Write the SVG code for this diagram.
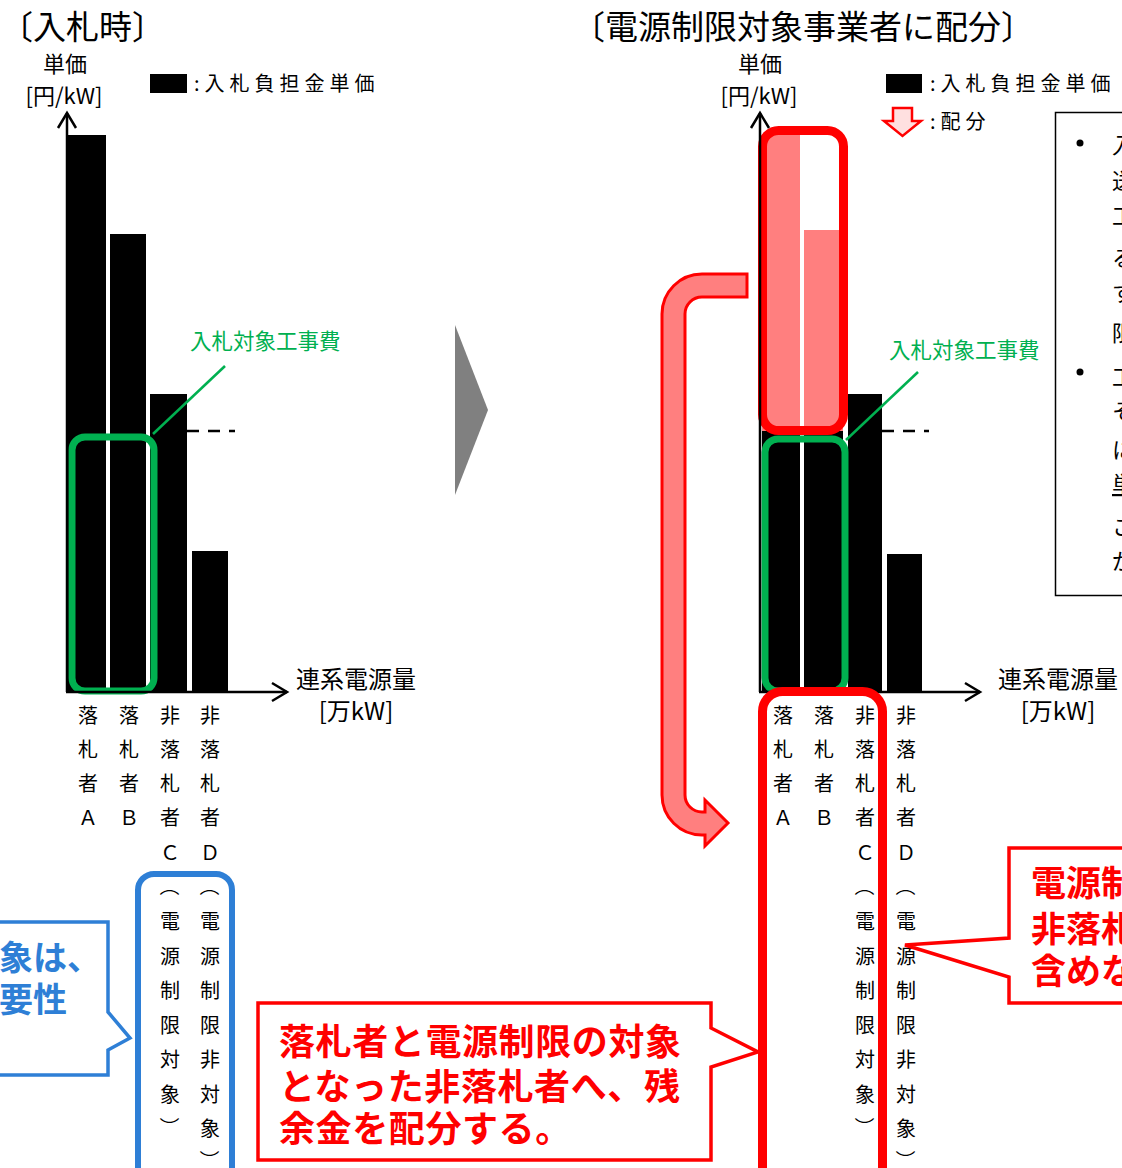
<svg xmlns="http://www.w3.org/2000/svg" width="1122" height="1168" viewBox="0 0 1122 1168">
<style>
text{font-family:"Noto Sans CJK JP","Noto Sans",sans-serif;fill:#000}
.t{font-size:33px}
.ax{font-size:22px;text-anchor:middle}
.ax2{font-size:24px;text-anchor:middle}
.lg{font-size:20px;letter-spacing:5px}
.col{font-size:20px;text-anchor:middle;dominant-baseline:central}
.gr{font-size:21.5px;fill:#00B050}
.bar{fill:#000}
.pink{fill:#FF7F7F}
.axis{stroke:#000;stroke-width:2.5;fill:none}
.grn{fill:none;stroke:#00B050;stroke-width:7}
.red{fill:none;stroke:#FF0000;stroke-width:9}
.blu{fill:none;stroke:#2E7FD6;stroke-width:6}
.call{fill:#fff;stroke:#FF0000;stroke-width:3.5}
.callb{fill:#fff;stroke:#2E7FD6;stroke-width:3.5}
.rt{font-size:35px;font-weight:bold;fill:#FF0000}
.rtb{font-size:36px;font-weight:bold;fill:#FF0000;letter-spacing:0.6px}
.bt{font-size:34px;font-weight:bold;fill:#2E7FD6}
.bx{font-size:22px}
</style>

<!-- titles -->
<g id="title-left"><text class="t" x="0" y="39">〔入札時〕</text></g>
<g id="title-right"><text class="t" x="572" y="39">〔電源制限対象事業者に配分〕</text></g>

<!-- LEFT CHART -->
<g id="left-axis-labels">
  <text class="ax" x="65" y="72">単価</text>
  <text class="ax" x="64" y="104">[円/kW]</text>
  <text class="ax2" x="356" y="688">連系電源量</text>
  <text class="ax2" x="356" y="720">[万kW]</text>
</g>
<g id="left-legend">
  <rect x="150" y="74" width="37" height="19" fill="#000"/>
  <text class="lg" x="194" y="91">:入札負担金単価</text>
</g>
<g id="left-bars">
  <rect class="bar" x="68" y="135" width="38" height="557"/>
  <rect class="bar" x="110" y="234" width="36" height="458"/>
  <rect class="bar" x="150" y="394" width="37" height="298"/>
  <rect class="bar" x="192" y="551" width="36" height="141"/>
</g>
<g id="left-dash"><line x1="187" y1="431" x2="235" y2="431" stroke="#000" stroke-width="2.5" stroke-dasharray="12,9"/></g>
<g id="left-green-box"><rect class="grn" x="72" y="437" width="82" height="254" rx="13"/></g>
<g id="left-green-label">
  <text class="gr" x="190" y="349">入札対象工事費</text>
</g>

<!-- gray arrow -->
<g id="transition-arrow"><polygon points="455,325 488,410 455,495" fill="#808080"/></g>

<!-- RIGHT CHART -->
<g id="right-axis-labels">
  <text class="ax" x="760" y="72">単価</text>
  <text class="ax" x="759" y="104">[円/kW]</text>
  <text class="ax2" x="1058" y="688">連系電源量</text>
  <text class="ax2" x="1058" y="720">[万kW]</text>
</g>
<g id="right-legend">
  <rect x="886" y="74" width="36" height="19" fill="#000"/>
  <text class="lg" x="930" y="91">:入札負担金単価</text>
  <path d="M893,108 H912 V121 H921 L902.5,136 L884,121 H893 Z" fill="#FFE0E0" stroke="#FF0000" stroke-width="2.5" stroke-linejoin="miter"/>
  <text class="lg" x="930" y="129">:配分</text>
</g>
<g id="right-bars">
  <rect class="pink" x="762" y="135" width="38" height="296"/>
  <rect class="pink" x="804" y="230" width="39" height="201"/>
  <rect class="bar" x="762" y="431" width="38" height="261"/>
  <rect class="bar" x="804" y="431" width="39" height="261"/>
  <rect class="bar" x="848" y="394" width="34" height="298"/>
  <rect class="bar" x="887" y="554" width="35" height="138"/>
</g>
<g id="right-dash"><line x1="882" y1="431" x2="929" y2="431" stroke="#000" stroke-width="2.5" stroke-dasharray="12,9"/></g>
<g id="right-red-box"><rect class="red" x="762.5" y="130.5" width="81" height="300" rx="16"/></g>
<g id="right-green-box"><rect class="grn" x="765" y="439" width="80" height="252" rx="13"/></g>
<g id="right-green-label">
  <text class="gr" x="889" y="358">入札対象工事費</text>
</g>

<!-- axes and leaders -->
<g id="connectors">
  <line class="axis" x1="67" y1="113" x2="67" y2="692"/>
  <polyline class="axis" points="58,128 67,113 76,128"/>
  <line class="axis" x1="66" y1="692" x2="287" y2="692"/>
  <polyline class="axis" points="272,683 287,692 272,701"/>
  <line class="axis" x1="760" y1="113" x2="760" y2="692"/>
  <polyline class="axis" points="751,128 760,113 769,128"/>
  <line class="axis" x1="759" y1="692" x2="980" y2="692"/>
  <polyline class="axis" points="965,683 980,692 965,701"/>
  <line x1="225" y1="366" x2="153" y2="434" stroke="#00B050" stroke-width="2.5"/>
  <line x1="918" y1="372" x2="846" y2="440" stroke="#00B050" stroke-width="2.5"/>
  <path id="bent-arrow" d="M747,274 L702,274 A40,40 0 0 0 662,314 L662,795 A40,40 0 0 0 702,835 L705,835 L705,846 L728,823 L705,800 L705,812 L702,812 A17,17 0 0 1 685,795 L685,314 A17,17 0 0 1 702,297 L747,297 Z" fill="#FF7F7F" stroke="#FF0000" stroke-width="3"/>
</g>

<!-- LEFT column labels -->
<g id="left-labels">
  <text class="col" x="88" y="714">落</text><text class="col" x="88" y="748">札</text><text class="col" x="88" y="782">者</text><text class="col" x="88" y="816">Ａ</text>
  <text class="col" x="129" y="714">落</text><text class="col" x="129" y="748">札</text><text class="col" x="129" y="782">者</text><text class="col" x="129" y="816">Ｂ</text>
  <text class="col" x="170" y="714">非</text><text class="col" x="170" y="748">落</text><text class="col" x="170" y="782">札</text><text class="col" x="170" y="816">者</text><text class="col" x="170" y="851">Ｃ</text>
  <text class="col" transform="translate(170,886) rotate(90)" x="0" y="0">（</text><text class="col" x="170" y="920">電</text><text class="col" x="170" y="955">源</text><text class="col" x="170" y="989">制</text><text class="col" x="170" y="1024">限</text><text class="col" x="170" y="1058">対</text><text class="col" x="170" y="1093">象</text><text class="col" transform="translate(170,1127) rotate(90)" x="0" y="0">）</text>
  <text class="col" x="210" y="714">非</text><text class="col" x="210" y="748">落</text><text class="col" x="210" y="782">札</text><text class="col" x="210" y="816">者</text><text class="col" x="210" y="851">Ｄ</text>
  <text class="col" transform="translate(210,886) rotate(90)" x="0" y="0">（</text><text class="col" x="210" y="920">電</text><text class="col" x="210" y="955">源</text><text class="col" x="210" y="989">制</text><text class="col" x="210" y="1024">限</text><text class="col" x="210" y="1058">非</text><text class="col" x="210" y="1093">対</text><text class="col" x="210" y="1127">象</text><text class="col" transform="translate(210,1160) rotate(90)" x="0" y="0">）</text>
</g>
<g id="left-blue-box"><rect class="blu" x="138" y="874" width="94" height="310" rx="16"/></g>

<!-- RIGHT column labels -->
<g id="right-labels">
  <text class="col" x="783" y="714">落</text><text class="col" x="783" y="748">札</text><text class="col" x="783" y="782">者</text><text class="col" x="783" y="816">Ａ</text>
  <text class="col" x="824" y="714">落</text><text class="col" x="824" y="748">札</text><text class="col" x="824" y="782">者</text><text class="col" x="824" y="816">Ｂ</text>
  <text class="col" x="865" y="714">非</text><text class="col" x="865" y="748">落</text><text class="col" x="865" y="782">札</text><text class="col" x="865" y="816">者</text><text class="col" x="865" y="851">Ｃ</text>
  <text class="col" transform="translate(865,886) rotate(90)" x="0" y="0">（</text><text class="col" x="865" y="920">電</text><text class="col" x="865" y="955">源</text><text class="col" x="865" y="989">制</text><text class="col" x="865" y="1024">限</text><text class="col" x="865" y="1058">対</text><text class="col" x="865" y="1093">象</text><text class="col" transform="translate(865,1127) rotate(90)" x="0" y="0">）</text>
  <text class="col" x="906" y="714">非</text><text class="col" x="906" y="748">落</text><text class="col" x="906" y="782">札</text><text class="col" x="906" y="816">者</text><text class="col" x="906" y="851">Ｄ</text>
  <text class="col" transform="translate(906,886) rotate(90)" x="0" y="0">（</text><text class="col" x="906" y="920">電</text><text class="col" x="906" y="955">源</text><text class="col" x="906" y="989">制</text><text class="col" x="906" y="1024">限</text><text class="col" x="906" y="1058">非</text><text class="col" x="906" y="1093">対</text><text class="col" x="906" y="1127">象</text><text class="col" transform="translate(906,1160) rotate(90)" x="0" y="0">）</text>
</g>
<g id="right-red-label-box"><rect class="red" x="762.5" y="691.5" width="120" height="500" rx="20"/></g>

<!-- right note box -->
<g id="note-box">
  <rect x="1055.5" y="112.5" width="80" height="483" fill="none" stroke="#000" stroke-width="1.5"/>
  <circle cx="1080" cy="143" r="3.5" fill="#000"/>
  <circle cx="1080" cy="372" r="3.5" fill="#000"/>
  <text class="bx" x="1112" y="153">入</text>
  <text class="bx" x="1112" y="189">送</text>
  <text class="bx" x="1112" y="224">工</text>
  <text class="bx" x="1112" y="266">る</text>
  <text class="bx" x="1112" y="301">す</text>
  <text class="bx" x="1112" y="341">限</text>
  <text class="bx" x="1112" y="385">工</text>
  <text class="bx" x="1112" y="419">そ</text>
  <text class="bx" x="1112" y="458">に</text>
  <text class="bx" x="1112" y="492" text-decoration="underline">単</text>
  <text class="bx" x="1112" y="535">こ</text>
  <text class="bx" x="1112" y="569">が</text>
</g>

<!-- callouts -->
<g id="callout-blue">
  <path class="callb" d="M-10,922 H108 V1012 L130,1038 L108,1050 V1075 H-10"/>
  <text class="bt" x="-1" y="970">象は、</text>
  <text class="bt" x="-1" y="1012">要性</text>
</g>
<g id="callout-bottom">
  <path class="call" d="M258,1003 H711 V1028 L758,1052 L711,1067 V1160 H258 Z"/>
  <text class="rtb" x="279" y="1055">落札者と電源制限の対象</text>
  <text class="rtb" x="279" y="1100">となった非落札者へ、残</text>
  <text class="rtb" x="279" y="1142">余金を配分する。</text>
</g>
<g id="callout-right">
  <path class="call" d="M1135,848 H1009 V938 L905,945 L1009,977 V1003 H1135"/>
  <text class="rt" x="1031" y="896">電源制</text>
  <text class="rt" x="1031" y="942">非落札</text>
  <text class="rt" x="1031" y="984">含めな</text>
</g>
</svg>
